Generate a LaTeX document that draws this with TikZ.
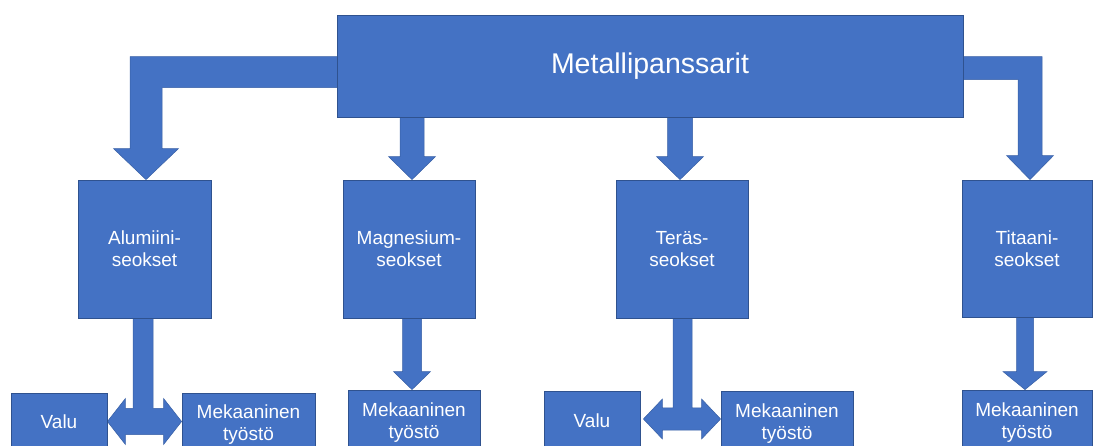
\documentclass[tikz,border=0pt]{standalone}
\usepackage{fontspec}
\setmainfont{Liberation Sans}
\usetikzlibrary{calc,backgrounds}
\definecolor{blu}{HTML}{4472C4}
\definecolor{bdr}{HTML}{2F528F}
% down block arrow: #1 tip, #2 anchor giving base y, #3 shaft half, #4 head half, #5 head length
\newcommand\darr[5]{%
  \path[arr] ($(#1 |- #2)+(-#3,-2)$) -- ($(#1)+(-#3,-#5)$) -- ($(#1)+(-#4,-#5)$) -- (#1)
    -- ($(#1)+(#4,-#5)$) -- ($(#1)+(#3,-#5)$) -- ($(#1 |- #2)+(#3,-2)$) -- cycle;}
% left-right-up block arrow: #1 stem base, #2 left tip, #3 right tip, #4 stem half, #5 shaft half, #6 head half, #7 head length
\newcommand\lrup[7]{%
  \path[arr] let \p1=(#1), \p2=(#2), \p3=(#3) in
    (\x1-#4pt,\y1+2pt) -- (\x1-#4pt,\y2+#5pt) -- (\x2+#7pt,\y2+#5pt) -- (\x2+#7pt,\y2+#6pt)
    -- (\p2) -- (\x2+#7pt,\y2-#6pt) -- (\x2+#7pt,\y2-#5pt) -- (\x3-#7pt,\y2-#5pt)
    -- (\x3-#7pt,\y2-#6pt) -- (\x3,\y2) -- (\x3-#7pt,\y2+#6pt) -- (\x3-#7pt,\y2+#5pt)
    -- (\x1+#4pt,\y2+#5pt) -- (\x1+#4pt,\y1+2pt) -- cycle;}
\begin{document}
\begin{tikzpicture}[x=1pt,y=-1pt,
  box/.style={draw=bdr, fill=blu, line width=0.8pt, text=white, align=center,
    inner sep=0pt, font=\fontsize{19}{22}\selectfont},
  arr/.style={fill=blu, draw=bdr!60!blu, line width=0.5pt, line join=miter}]
\path[use as bounding box, clip] (0,0) rectangle (1093,446);

\node[box, minimum width=626, minimum height=102, font=\fontsize{28.5}{34}\selectfont] (top) at (650,66) {Metallipanssarit};

\node[box, minimum width=133, minimum height=138] (al) at (144.5,249) {Alumiini-\\seokset};
\node[box, minimum width=132, minimum height=138] (mg) at (409,249) {Magnesium-\\seokset};
\node[box, minimum width=132, minimum height=138] (te) at (682,249) {Teräs-\\seokset};
\node[box, minimum width=130, minimum height=137] (ti) at (1027,248.5) {Titaani-\\seokset};

\node[box, minimum width=96, minimum height=57] (v1) at (59,421.5) {Valu};
\node[box, minimum width=133, minimum height=63] (m1) at (248.5,424.5) {Mekaaninen\\työstö};
\node[box, minimum width=132, minimum height=66] (m2) at (414,423) {Mekaaninen\\työstö};
\node[box, minimum width=96, minimum height=59] (v2) at (592,420.5) {Valu};
\node[box, minimum width=132, minimum height=65] (m3) at (787,423.5) {Mekaaninen\\työstö};
\node[box, minimum width=130, minimum height=66] (m4) at (1027,423) {Mekaaninen\\työstö};

\coordinate (tAl) at ($(al.north)+(1.5,0)$);
\coordinate (tMg) at ($(mg.north)+(3,0)$);
\coordinate (tTe) at ($(te.north)+(-2,0)$);
\coordinate (tTi) at ($(ti.north)+(3,0)$);
\coordinate (bMg) at ($(m2.north)+(-2,0)$);
\coordinate (bTi) at ($(m4.north)+(-2,0)$);
\coordinate (sAl) at ($(al.south)+(-1.5,0)$);
\coordinate (sTe) at ($(te.south)+(0.5,0)$);
\coordinate (lTe) at ($(v2.east)+(3,-1.5)$);

\begin{scope}[on background layer]
  % elbow arrows from the top box
  \path[arr] ($(top.north west)+(5,42)$) -- ($(tAl |- top.north)+(-16,42)$) -- ($(tAl)+(-16,-31)$)
    -- ($(tAl)+(-32.5,-31)$) -- (tAl) -- ($(tAl)+(32.5,-31)$) -- ($(tAl)+(16,-31)$)
    -- ($(tAl |- top.north)+(16,73)$) -- ($(top.north west)+(5,73)$) -- cycle;
  \path[arr] ($(top.north east)+(-5,42)$) -- ($(tTi |- top.north)+(12,42)$) -- ($(tTi)+(12,-24)$)
    -- ($(tTi)+(23.5,-24)$) -- (tTi) -- ($(tTi)+(-23.5,-24)$) -- ($(tTi)+(-12,-24)$)
    -- ($(tTi |- top.north)+(-12,65)$) -- ($(top.north east)+(-5,65)$) -- cycle;
  % straight arrows
  \darr{tMg}{top.south}{12}{23.5}{23}
  \darr{tTe}{top.south}{12.5}{23.5}{23}
  \darr{bMg}{mg.south}{9.5}{18.5}{18}
  \darr{bTi}{ti.south}{8.5}{22}{18}
  % left-right-up arrows
  \lrup{sAl}{v1.east}{m1.west}{10}{13}{23}{18}
  \lrup{sTe}{lTe}{m3.west}{9.5}{11}{20}{19}
\end{scope}
\end{tikzpicture}
\end{document}
